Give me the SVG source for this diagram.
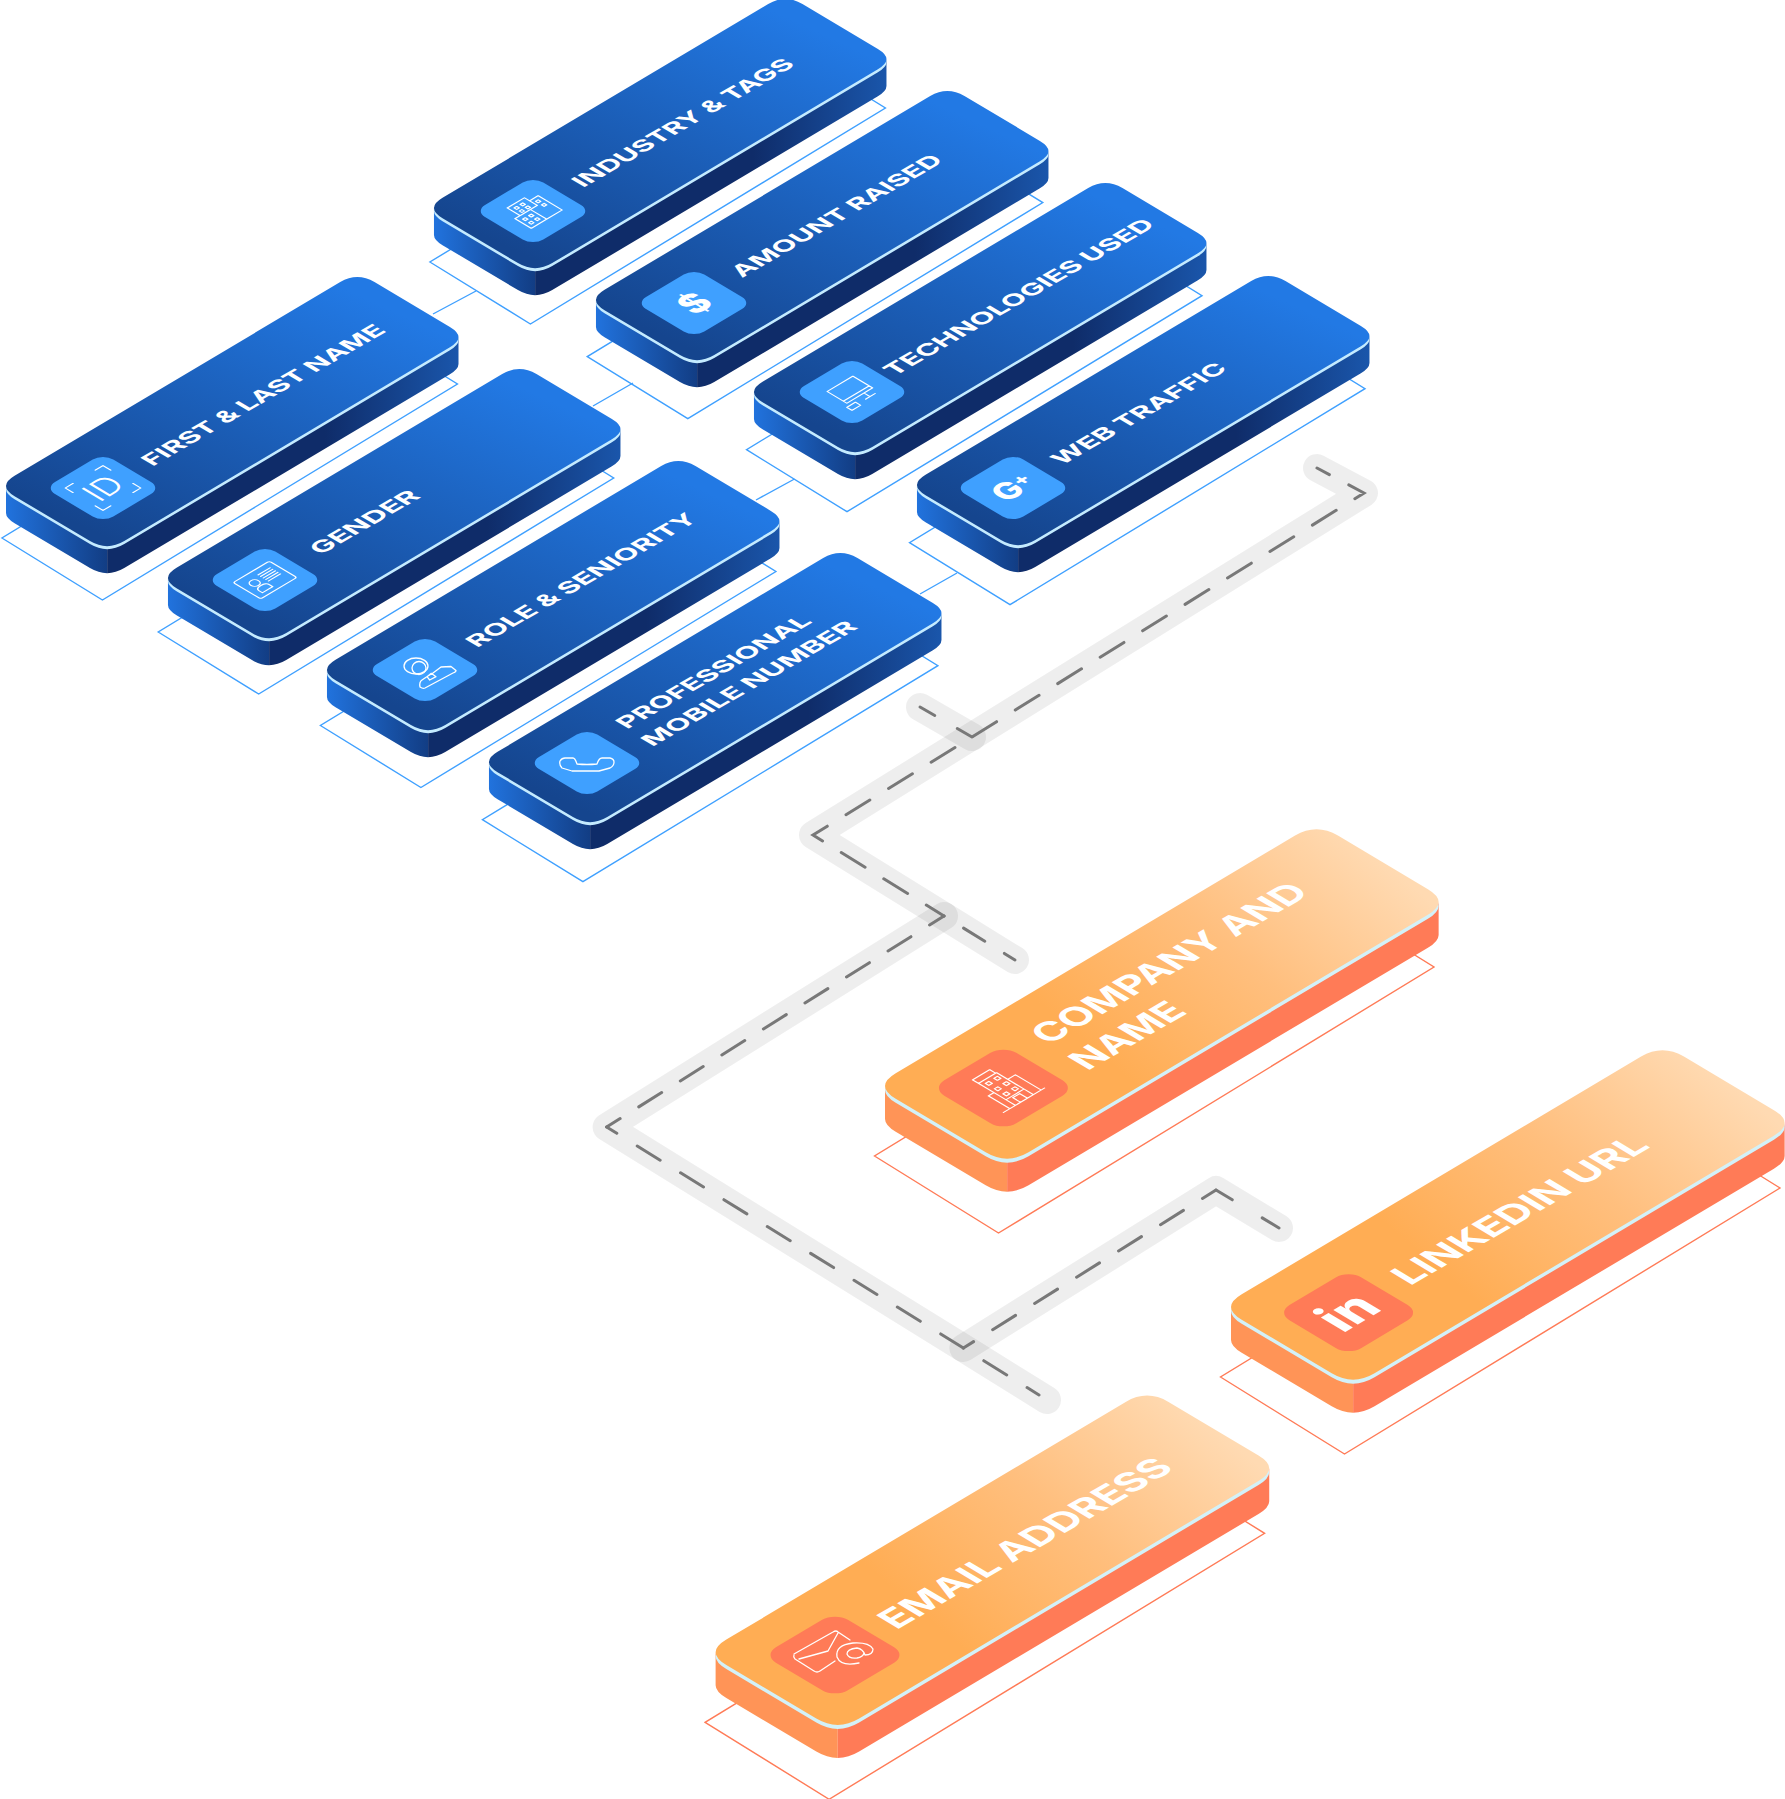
<svg xmlns="http://www.w3.org/2000/svg" width="1785" height="1799" viewBox="0 0 1785 1799">
<style>
.band{fill:none;stroke:#000;stroke-opacity:.065;stroke-width:28;stroke-linecap:round;stroke-linejoin:round}
.dash{fill:none;stroke:#787878;stroke-width:3;stroke-linecap:round;stroke-linejoin:miter}
.link{fill:none;stroke:#3fa0ff;stroke-width:1.4}
.bo{fill:none;stroke:#3fa0ff;stroke-width:1.4}
.oo{fill:none;stroke:#ff7b57;stroke-width:1.4}
.ic{fill:none;stroke:#fff;stroke-width:1.3;stroke-linecap:round;stroke-linejoin:round}
.lb{fill:#fff;font-family:"Inter","Liberation Sans",sans-serif;font-weight:700;font-size:22px}
.lo{fill:#fff;font-family:"Inter","Liberation Sans",sans-serif;font-weight:700;font-size:36px}
.gl{fill:#fff;font-family:"Inter","Liberation Sans",sans-serif;font-weight:800;text-anchor:middle}
</style>
<defs>
<linearGradient id="gbf" gradientUnits="userSpaceOnUse" x1="10" y1="90" x2="400" y2="40"><stop offset="0" stop-color="#15458e"/><stop offset="1" stop-color="#2279e4"/></linearGradient>
<linearGradient id="gbl" gradientUnits="userSpaceOnUse" x1="8" y1="0" x2="110" y2="0"><stop offset="0" stop-color="#2173de"/><stop offset="1" stop-color="#123d84"/></linearGradient>
<linearGradient id="gbr" gradientUnits="userSpaceOnUse" x1="110" y1="0" x2="461" y2="0"><stop offset="0" stop-color="#0f2c69"/><stop offset=".62" stop-color="#0f2c69"/><stop offset="1" stop-color="#1a56ab"/></linearGradient>
<linearGradient id="gof" gradientUnits="userSpaceOnUse" x1="170" y1="60" x2="510" y2="120"><stop offset="0" stop-color="#ffad54"/><stop offset=".5" stop-color="#ffbf7e"/><stop offset="1" stop-color="#ffdab2"/></linearGradient>
<path id="bTop" transform="matrix(.857,-.51,.857,.51,0,0)" d="M20,0H400Q420,0 420,20V108Q420,128 400,128H20Q0,128 0,108V20Q0,0 20,0Z"/>
<path id="oTop" transform="matrix(.857,-.51,.857,.51,0,0)" d="M25,0H491Q516,0 516,25V130Q516,155 491,155H25Q0,155 0,130V25Q0,0 25,0Z"/>
<polygon id="bBase" class="bo" points="4.5,52 105,114 460,-102 359.5,-164"/>
<g id="bSlab">
<path fill="url(#gbl)" d="M8.57,0Q8.57,5.1 17.14,10.2L92.56,55.08Q101.13,60.18 109.7,60.18V87.18Q101.13,87.18 92.56,82.08L17.14,37.2Q8.57,32.1 8.57,27Z"/>
<path fill="url(#gbr)" d="M109.7,60.18Q118.28,60.18 126.84,55.08L452.5,-138.72Q461.07,-143.82 461.07,-148.92V-121.92Q461.07,-116.82 452.5,-111.72L126.84,82.08Q118.28,87.18 109.7,87.18Z"/>
<use href="#bTop" fill="#c4ebff" y="3"/>
<use href="#bTop" fill="url(#gbf)"/>
</g>
<g id="oSlab">
<polygon class="oo" points="0.2,70 124.2,147 559.7,-119 435.7,-196"/>
<path fill="#ff9457" d="M10.71,0Q10.71,6.38 21.43,12.75L111.41,66.3Q122.1,72.68 132.84,72.68V105.68Q122.1,105.68 111.41,99.3L21.43,45.75Q10.71,39.38 10.71,33Z"/>
<path fill="#ff7b57" d="M132.84,72.68Q143.55,72.68 154.25,66.3L553.62,-171.36Q564.34,-177.7 564.33,-184.11V-151.11Q564.34,-144.7 553.62,-138.36L154.25,99.3Q143.55,105.68 132.84,105.68Z"/>
<use href="#oTop" fill="#d3f1f8" y="4"/>
<use href="#oTop" fill="url(#gof)"/>
</g>
<rect id="bPad" x="-34" y="-34" width="68" height="68" rx="12" fill="#3fa0ff"/>
<rect id="oPad" x="-42" y="-42" width="84" height="84" rx="15" fill="#ff7b57"/>
</defs>

<g id="connectors">
<path class="link" d="M476,291L433,314M633,383L593,406M794.5,479L756,500M957,573L920,594"/>
<path class="band" d="M920,707L972,737"/>
<path class="band" d="M1317,468L1364,493L813,835L1015,960"/>
<path class="band" d="M944,916L606.6,1127L963.4,1348L1047,1400"/>
<path class="band" d="M963.4,1348L1216,1190L1279,1228"/>
<path class="dash" stroke-dasharray="28 22" stroke-dashoffset="14" d="M1317,468L1364,493L972,737"/>
<path class="dash" stroke-dasharray="17 26 17" d="M972,737L920,707"/>
<path class="dash" stroke-dasharray="28 22" stroke-dashoffset="30" d="M972,737L813,835L944,916"/>
<path class="dash" stroke-dasharray="0 23 25 23 12" d="M944,916L1015,960"/>
<path class="dash" stroke-dasharray="27 22" stroke-dashoffset="10" d="M944,916L606.6,1127"/>
<path class="dash" stroke-dasharray="27 24" stroke-dashoffset="15" d="M606.6,1127L963.4,1348"/>
<path class="dash" stroke-dasharray="0 24 27 24 14" d="M963.4,1348L1039,1395"/>
<path class="dash" stroke-dasharray="27 22.5" stroke-dashoffset="15" d="M963.4,1348L1216,1190"/>
<path class="dash" stroke-dasharray="19 35 20" d="M1216,1190L1279,1228"/>
</g>

<g id="node-industry">
<use href="#bBase" transform="translate(425.4,210)"/>
<use href="#bSlab" transform="translate(425.4,208)"/>
<g transform="matrix(.857,-.51,.857,.51,533,211)"><use href="#bPad"/>
<path class="ic" d="M-12,-18H8V-3H-12ZM-18,-3H0V16H-18ZM8,-12H18V16H0M-8,-14h3v3h-3ZM-1,-14h3v3h-3ZM-8,-8h3v3h-3ZM-1,-8h3v3h-3ZM-14,2h3v3h-3ZM-7,2h3v3h-3ZM-14,9h3v3h-3ZM-7,9h3v3h-3ZM11,-8h3v3h-3ZM11,-1h3v3h-3Z"/></g>
<text class="lb" transform="matrix(.866,-.5,.857,.51,583,188)" textLength="245.800" lengthAdjust="spacingAndGlyphs">INDUSTRY &amp; TAGS</text>
</g>
<g id="node-amount">
<use href="#bBase" transform="translate(582.8,304.6)"/>
<use href="#bSlab" transform="translate(587.4,300)"/>
<g transform="matrix(.857,-.51,.857,.51,694,303)"><use href="#bPad"/>
<text class="gl" font-size="36" y="13">$</text></g>
<text class="lb" transform="matrix(.866,-.5,.857,.51,742,278)" textLength="233.600" lengthAdjust="spacingAndGlyphs">AMOUNT RAISED</text>
</g>
<g id="node-technologies">
<use href="#bBase" transform="translate(742,397.7)"/>
<use href="#bSlab" transform="translate(745.4,392)"/>
<g transform="matrix(.857,-.51,.857,.51,852,392)"><use href="#bPad"/>
<path class="ic" d="M-14,-15H16V8H-14ZM-14,4H16M6,8V15M1,15H12M-18,12h10v6h-10Z"/></g>
<text class="lb" transform="matrix(.866,-.5,.857,.51,894.5,376.5)" textLength="302.300" lengthAdjust="spacingAndGlyphs">TECHNOLOGIES USED</text>
</g>
<g id="node-web">
<use href="#bBase" transform="translate(905,490.7)"/>
<use href="#bSlab" transform="translate(908.4,485)"/>
<g transform="matrix(.857,-.51,.857,.51,1013,488)"><use href="#bPad"/>
<text class="gl" font-size="32" y="11" x="1">G<tspan font-size="20" dy="-8">+</tspan></text></g>
<text class="lb" transform="matrix(.866,-.5,.857,.51,1062,465.5)" textLength="192.300" lengthAdjust="spacingAndGlyphs">WEB TRAFFIC</text>
</g>
<g id="node-first">
<use href="#bBase" transform="translate(-2.57,486)"/>
<use href="#bSlab" transform="translate(-2.57,486)"/>
<g transform="matrix(.857,-.51,.857,.51,103,488)"><use href="#bPad"/>
<text text-anchor="middle" y="12" font-size="33" font-weight="300" fill="#fff" font-family="Inter,'Liberation Sans',sans-serif">ID</text>
<path class="ic" d="M-22,-13V-22H-13M13,-22H22V-13M22,13V22H13M-13,22H-22V13"/></g>
<text class="lb" transform="matrix(.866,-.5,.857,.51,152.4,466.7)" textLength="271" lengthAdjust="spacingAndGlyphs">FIRST &amp; LAST NAME</text>
</g>
<g id="node-gender">
<use href="#bBase" transform="translate(153.7,580)"/>
<use href="#bSlab" transform="translate(159.4,578)"/>
<g transform="matrix(.857,-.51,.857,.51,265,580)"><use href="#bPad"/>
<rect class="ic" x="-21" y="-16" width="42" height="32" rx="2"/>
<path class="ic" d="M1,-9H15M1,-6H15M1,-3H15M1,0H15M1,3H15M-14,11V7Q-14,3 -8,3Q-2,3 -2,7V11Z"/><circle class="ic" cx="-9" cy="-3" r="4.500"/></g>
<text class="lb" transform="matrix(.866,-.5,.857,.51,320.4,555.3)" textLength="116.900" lengthAdjust="spacingAndGlyphs">GENDER</text>
</g>
<g id="node-role">
<use href="#bBase" transform="translate(315.9,673.5)"/>
<use href="#bSlab" transform="translate(318.4,670)"/>
<g transform="matrix(.857,-.51,.857,.51,425,670)"><use href="#bPad"/></g>
<g transform="translate(425,670)"><ellipse class="ic" cx="-9" cy="-4" rx="12" ry="8"/><ellipse class="ic" cx="-6" cy="-2" rx="7" ry="6.500"/>
<path class="ic" d="M-5,17Q-6,12 -3,10L3,6L8,3L16,-3L26,-3.500L31,.5Q31,2 28,3L0,18Q-2,19 -5,17ZM2,6.700L6.300,3.300L11,6.700L4.700,10Z"/></g>
<text class="lb" transform="matrix(.866,-.5,.857,.51,477,648)" textLength="256.300" lengthAdjust="spacingAndGlyphs">ROLE &amp; SENIORITY</text>
</g>
<g id="node-professional">
<use href="#bBase" transform="translate(477.9,767.7)"/>
<use href="#bSlab" transform="translate(480.4,762)"/>
<g transform="matrix(.857,-.51,.857,.51,587,763)"><use href="#bPad"/></g>
<path class="ic" transform="translate(587,763)" d="M-27,-2Q-25,-5 -22,-5H-14Q-12,-5 -10,1Q0,2 10,1Q12,-5 15,-5H23Q27,-4 27,-1Q27,3 23,5L12,8H-15L-25,5Q-28,2 -27,-2Z"/>
<text class="lb" transform="matrix(.866,-.5,.857,.51,627,729.500)" textLength="215" lengthAdjust="spacingAndGlyphs">PROFESSIONAL</text>
<text class="lb" transform="matrix(.866,-.5,.857,.51,652.300,747)" textLength="238.600" lengthAdjust="spacingAndGlyphs">MOBILE NUMBER</text>
</g>
<g id="node-company">
<use href="#oSlab" transform="translate(874.3,1086)"/>
<g transform="matrix(.857,-.51,.857,.51,1003.4,1088)"><use href="#oPad"/>
<path class="ic" d="M-10,-19H11V13H-10ZM-10,-19V-26H10V-19M11,-6H20V24M-24,24H24M-10,-1H-16.500V24M-4,24V15H4V24M-10,13V24M11,13V24M-6,-15h4v4h-4ZM4,-15h4v4h-4ZM-6,-4.500h4v4h-4ZM4,-4.500h4v4h-4ZM-6,5.500h4v4h-4ZM4,5.500h4v4h-4Z"/></g>
<text class="lo" transform="matrix(.866,-.5,.857,.51,1049,1045)" textLength="302.500" lengthAdjust="spacingAndGlyphs">COMPANY AND</text>
<text class="lo" transform="matrix(.866,-.5,.857,.51,1087.500,1071)" textLength="116.700" lengthAdjust="spacingAndGlyphs">NAME</text>
</g>
<g id="node-linkedin">
<use href="#oSlab" transform="translate(1220.3,1307)"/>
<g transform="matrix(.857,-.51,.857,.51,1348.6,1312.7)"><use href="#oPad"/>
<text class="gl" font-size="52" y="17">in</text></g>
<text class="lo" transform="matrix(.866,-.5,.857,.51,1410,1286)" textLength="278.500" lengthAdjust="spacingAndGlyphs">LINKEDIN URL</text>
</g>
<g id="node-email">
<use href="#oSlab" transform="translate(704.9,1652.3)"/>
<g transform="matrix(.857,-.51,.857,.51,835,1655)"><use href="#oPad"/></g>
<g transform="translate(835,1655)"><path class="ic" stroke-width="1.6" d="M-41,-1L-2,-23Q1,-25 3,-23L15,-15M3,-22L-7,-4L-36,4M-41,0Q-42,2 -40,4L-21,16Q-18,18 -15,16L0,6"/>
<path class="ic" stroke-width="1.6" d="M24,8Q6,12 2,2Q0,-10 18,-12Q34,-13 38,-6Q38,0 30,0Q28,-6 22,-7Q12,-6 12,-1Q14,4 22,3Q28,2 29,-2"/></g>
<text class="lo" transform="matrix(.866,-.5,.857,.51,896.6,1630)" textLength="322" lengthAdjust="spacingAndGlyphs">EMAIL ADDRESS</text>
</g>
</svg>
